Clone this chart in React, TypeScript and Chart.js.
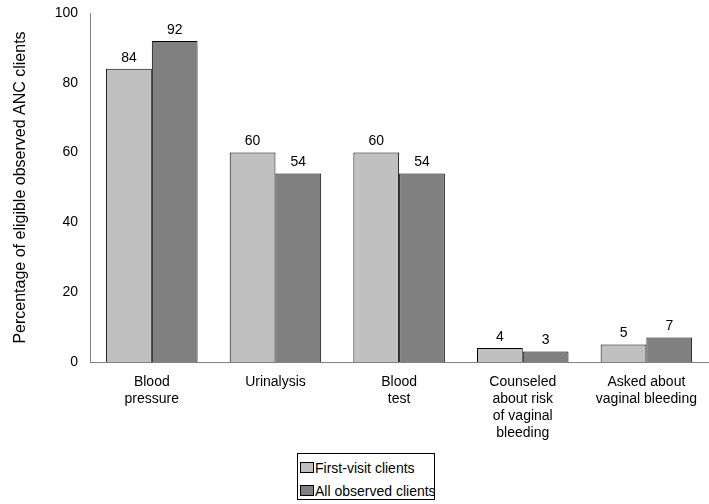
import React, { useEffect, useRef } from "react";
import { Chart, registerables } from "chart.js";

Chart.register(...registerables);

const categories: string[][] = [
  ["Blood", "pressure"],
  ["Urinalysis"],
  ["Blood", "test"],
  ["Counseled", "about risk", "of vaginal", "bleeding"],
  ["Asked about", "vaginal bleeding"],
];
const firstVisit = [84, 60, 60, 4, 5];
const allObserved = [92, 54, 54, 3, 7];
const seriesNames = ["First-visit clients", "All observed clients"];
const seriesColors = ["#c0c0c0", "#808080"];
const yTicks = [0, 20, 40, 60, 80, 100];

const FONT = "'Liberation Sans', Arial, sans-serif";

const valueLabels = {
  id: "valueLabels",
  afterDatasetsDraw(chart: any) {
    const ctx = chart.ctx;
    ctx.save();
    ctx.font = `14px ${FONT}`;
    ctx.fillStyle = "#000";
    ctx.textAlign = "center";
    ctx.textBaseline = "bottom";
    chart.data.datasets.forEach((ds: any, di: number) => {
      const meta = chart.getDatasetMeta(di);
      meta.data.forEach((bar: any, i: number) => {
        ctx.fillText(String(ds.data[i]), bar.x, bar.y - 4);
      });
    });
    ctx.restore();
  },
};

export default function App() {
  const ref = useRef<HTMLCanvasElement>(null);
  useEffect(() => {
    if (!ref.current) return;
    const chart = new Chart(ref.current, {
      type: "bar",
      data: {
        labels: categories,
        datasets: [
          {
            label: seriesNames[0],
            data: firstVisit,
            backgroundColor: seriesColors[0],
            borderColor: "#000",
            borderWidth: 1,
          },
          {
            label: seriesNames[1],
            data: allObserved,
            backgroundColor: seriesColors[1],
            borderColor: "#000",
            borderWidth: 1,
          },
        ],
      },
      options: {
        animation: false,
        responsive: false,
        maintainAspectRatio: false,
        layout: { padding: { top: 13, right: 0, left: 0, bottom: 0 } },
        datasets: { bar: { categoryPercentage: 0.74, barPercentage: 1 } },
        plugins: {
          legend: { display: false },
          tooltip: { enabled: false },
        },
        scales: {
          x: {
            grid: { display: false, drawTicks: false },
            border: { display: true, color: "#808080", width: 1 },
            ticks: {
              color: "#000",
              font: { family: FONT, size: 14, lineHeight: 1.2 },
              padding: 12,
              maxRotation: 0,
              autoSkip: false,
            },
            afterFit: (s: any) => {
              s.height = 142;
            },
          },
          y: {
            min: 0,
            max: 100,
            afterBuildTicks: (s: any) => {
              s.ticks = yTicks.map((v) => ({ value: v }));
            },
            grid: { display: false, drawTicks: false },
            border: { display: true, color: "#808080", width: 1 },
            ticks: {
              color: "#000",
              font: { family: FONT, size: 14 },
              padding: 12,
            },
            title: {
              display: true,
              text: "Percentage of eligible observed ANC clients",
              color: "#000",
              font: { family: FONT, size: 16 },
              padding: { top: 11, bottom: 4 },
            },
            afterFit: (s: any) => {
              s.width = 90;
              s.paddingTop = 0;
              s.paddingBottom = 0;
            },
          },
        },
      },
      plugins: [valueLabels],
    });
    return () => chart.destroy();
  }, []);

  return (
    <div style={{ position: "absolute", left: 0, top: 0, width: 709, height: 504, background: "#fff" }}>
      <canvas ref={ref} width={709} height={504} style={{ display: "block" }} />
      <div
        style={{
          position: "absolute",
          left: 297,
          top: 453,
          width: 138,
          height: 47,
          border: "1px solid #000",
          fontFamily: FONT,
          fontSize: 14,
          color: "#000",
          boxSizing: "border-box",
          background: "#fff",
          whiteSpace: "nowrap",
          overflow: "hidden",
          paddingTop: 2,
        }}
      >
        {seriesNames.map((name, i) => (
          <div key={name} style={{ display: "flex", alignItems: "center", height: 23, marginLeft: 2 }}>
            <span
              style={{
                display: "inline-block",
                flex: "none",
                width: 12,
                height: 9,
                background: seriesColors[i],
                border: "1px solid #000",
                marginRight: 1,
              }}
            />
            <span>{name}</span>
          </div>
        ))}
      </div>
    </div>
  );
}
